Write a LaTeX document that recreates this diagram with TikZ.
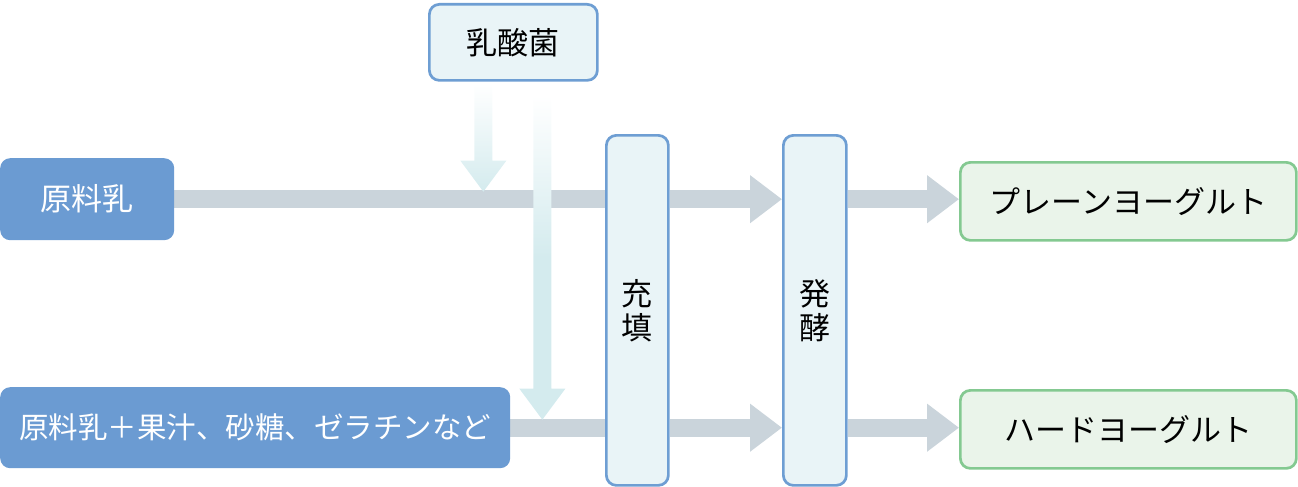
\documentclass[tikz,border=0pt]{standalone}
\usepackage{fontspec}
\setmainfont{Noto Sans CJK JP}
\usetikzlibrary{arrows.meta,backgrounds,calc}
\definecolor{boxblue}{HTML}{6B9BD2}
\definecolor{lineblue}{HTML}{6E9ED3}
\definecolor{paleblue}{HTML}{E9F4F7}
\definecolor{linegreen}{HTML}{84C991}
\definecolor{palegreen}{HTML}{EAF4EA}
\definecolor{bandgray}{HTML}{CAD4DB}
\definecolor{bactcyan}{HTML}{D4EBEE}

\begin{document}
\begin{tikzpicture}[x=1pt,y=-1pt,
        every node/.style={font=\fontsize{31}{34}\selectfont, rounded corners=10pt,
          inner sep=0pt, anchor=north west},
        raw box/.style={fill=boxblue, text=white},
        proc box/.style={draw=lineblue, line width=2.7pt, fill=paleblue, align=center},
        yog box/.style={draw=linegreen, line width=2.7pt, fill=palegreen,
          minimum width=336pt, minimum height=78pt},
        band/.style={draw=bandgray, line width=18pt},
        band arrow/.style={band, -{Triangle[width=46pt,length=32pt]}}]
        \useasboundingbox (0,0) rectangle (1298,487);

        \node[proc box, minimum width=168pt, minimum height=76pt] (lab)   at (428,3)   {乳酸菌};
        \node[raw box,  minimum width=174pt, minimum height=82pt] (raw)   at (0,158)   {原料乳};
        \node[raw box,  minimum width=510pt, minimum height=81pt,
              font=\fontsize{29.5}{34}\selectfont] (mix) at (0,387) {原料乳＋果汁、砂糖、ゼラチンなど};
        \node[proc box, minimum width=62pt,  minimum height=350pt] (fill)  at (605,134) {充\\填};
        \node[proc box, minimum width=63pt,  minimum height=350pt] (ferm)  at (782,134) {発\\酵};
        \node[yog box] (plain) at (959,161) {プレーンヨーグルト};
        \node[yog box] (hard)  at (959,389) {ハードヨーグルト};

        \begin{pgfonlayer}{background}
          \draw[band]       (raw.east)           -- (raw.east -| fill.west);
          \draw[band arrow] (raw.east -| fill.east)  -- (raw.east -| ferm.west);
          \draw[band arrow] (raw.east -| ferm.east)  -- (raw.east -| plain.west);

          \draw[band]       (mix.east)           -- (mix.east -| fill.west);
          \draw[band arrow] (mix.east -| fill.east)  -- (mix.east -| ferm.west);
          \draw[band arrow] (mix.east -| ferm.east)  -- (mix.east -| hard.west);

          % bacteria into both lines
          \shade[top color=white, bottom color=bactcyan]
            ($(lab.south)+(-39,2)$) -- ++(18,0) -- ++(0,77) -- ++(14,0)
            -- ++(-23,31) -- ++(-23,-31) -- ++(14,0) -- cycle;
          \shade[top color=white, bottom color=bactcyan, middle color=bactcyan]
            ($(lab.south)+(20,14)$) -- ++(18,0) -- ++(0,293) -- ++(14,0)
            -- ++(-23,31) -- ++(-23,-31) -- ++(14,0) -- cycle;
        \end{pgfonlayer}
      \end{tikzpicture}
\end{document}
